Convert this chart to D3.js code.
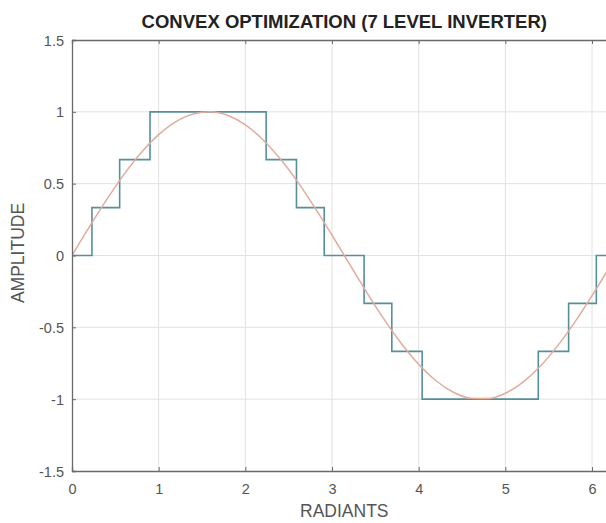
<!DOCTYPE html>
<html><head><meta charset="utf-8">
<script src="https://cdn.jsdelivr.net/npm/d3@7"></script>
<style>body{margin:0;background:#fff}svg{display:block}text{font-family:"Liberation Sans",Arial,sans-serif}</style>
</head><body><svg id="c" width="606" height="523"></svg>
<script>
// ---- data ----
const title = "CONVEX OPTIMIZATION (7 LEVEL INVERTER)";
const xLabel = "RADIANTS";
const yLabel = "AMPLITUDE";
const xTicks = [0, 1, 2, 3, 4, 5, 6];
const yTicks = [-1.5, -1, -0.5, 0, 0.5, 1, 1.5];
const yTickLabels = ["-1.5", "-1", "-0.5", "0", "0.5", "1", "1.5"];
// staircase (7-level) switching angles and levels
const stepX = [0, 0.23, 0.55, 0.90, 2.24, 2.59, 2.91, 3.37, 3.69, 4.04, 5.38, 5.73, 6.05, 6.283];
const stepY = [0, 0.333, 0.667, 1, 0.667, 0.333, 0, -0.333, -0.667, -1, -0.667, -0.333, 0, 0];
// reference sinusoid samples
const sineX = [0,0.2,0.4,0.6,0.8,1.0,1.2,1.4,1.6,1.8,2.0,2.2,2.4,2.6,2.8,3.0,3.2,3.4,3.6,3.8,4.0,4.2,4.4,4.6,4.8,5.0,5.2,5.4,5.6,5.8,6.0,6.2,6.283];
const sineY = [0,0.199,0.389,0.565,0.717,0.841,0.932,0.985,1.0,0.974,0.909,0.808,0.675,0.516,0.335,0.141,-0.058,-0.256,-0.443,-0.612,-0.757,-0.872,-0.952,-0.994,-0.996,-0.959,-0.883,-0.773,-0.631,-0.465,-0.279,-0.083,0];

// ---- layout ----
const L = 72, T = 40, B = 471, R = 72 + 6.283 * 86.67;
const svg = d3.select("#c");
const x = d3.scaleLinear().domain([0, 6.283]).range([L, R]);
const y = d3.scaleLinear().domain([-1.5, 1.5]).range([B, T]);

svg.append("defs").append("clipPath").attr("id", "clip")
  .append("rect").attr("x", L).attr("y", T).attr("width", R - L).attr("height", B - T);

// grid
const g = svg.append("g");
g.selectAll(".gx").data(xTicks.filter(d => d > 0)).join("line")
  .attr("x1", d => x(d)).attr("x2", d => x(d)).attr("y1", T).attr("y2", B)
  .attr("stroke", "#e2e2e2").attr("stroke-width", 1);
g.selectAll(".gy").data(yTicks.filter(d => d > -1.5 && d < 1.5)).join("line")
  .attr("x1", L).attr("x2", R).attr("y1", d => y(d)).attr("y2", d => y(d))
  .attr("stroke", "#e2e2e2").attr("stroke-width", 1);

// lines
const plot = svg.append("g").attr("clip-path", "url(#clip)");
const stepData = stepX.map((d, i) => [d, stepY[i]]);
plot.append("path").datum(stepData)
  .attr("d", d3.line().x(d => x(d[0])).y(d => y(d[1])).curve(d3.curveStepAfter))
  .attr("fill", "none").attr("stroke", "#568f9c").attr("stroke-width", 1.6);
const sineData = sineX.map((d, i) => [d, sineY[i]]);
plot.append("path").datum(sineData)
  .attr("d", d3.line().x(d => x(d[0])).y(d => y(d[1])).curve(d3.curveMonotoneX))
  .attr("fill", "none").attr("stroke", "#e4ab9a").attr("stroke-width", 1.5);

// axes
const axCol = "#6a6a6a";
const xb = svg.append("g").attr("transform", `translate(0,${B})`)
  .call(d3.axisBottom(x).tickValues(xTicks).tickSize(-4).tickPadding(13).tickFormat(d3.format("d")));
const xt = svg.append("g").attr("transform", `translate(0,${T})`)
  .call(d3.axisTop(x).tickValues(xTicks).tickSize(-4).tickFormat(""));
const yl = svg.append("g").attr("transform", `translate(${L},0)`)
  .call(d3.axisLeft(y).tickValues(yTicks).tickSize(-4).tickPadding(8).tickFormat((d, i) => yTickLabels[i]));
[xb, xt, yl].forEach(a => {
  a.select(".domain").attr("stroke", axCol).attr("stroke-width", 1.3);
  a.selectAll(".tick line").attr("stroke", axCol);
  a.selectAll("text").attr("fill", "#555").attr("font-size", 14.5)
    .attr("font-family", '"Liberation Sans",Arial,sans-serif');
});
yl.selectAll(".tick text").attr("dy", "0.35em");

// titles
svg.append("text").attr("x", (L + R) / 2).attr("y", 28).attr("text-anchor", "middle")
  .attr("font-size", 18.5).attr("font-weight", "bold").attr("fill", "#222").text(title);
svg.append("text").attr("x", (L + R) / 2).attr("y", 517).attr("text-anchor", "middle")
  .attr("font-size", 17.5).attr("fill", "#555").text(xLabel);
svg.append("text").attr("transform", `translate(24,253) rotate(-90)`).attr("text-anchor", "middle")
  .attr("font-size", 17.5).attr("fill", "#555").text(yLabel);
</script></body></html>
